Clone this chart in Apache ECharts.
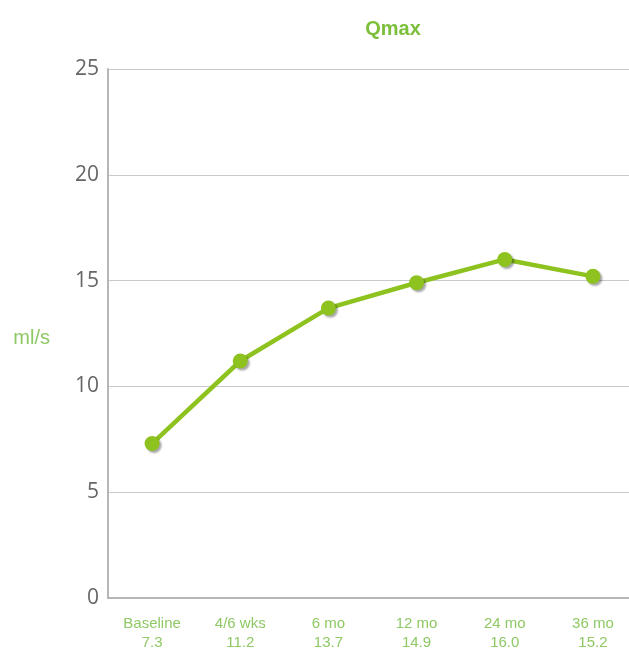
<!DOCTYPE html>
<html><head><meta charset="utf-8">
<script src="https://cdn.jsdelivr.net/npm/echarts@6/dist/echarts.min.js"></script>
<style>html,body{margin:0;padding:0;background:#fff}#c{width:629px;height:648px}</style>
</head><body><div id="c"></div>
<script>
const categories = ["Baseline", "4/6 wks", "6 mo", "12 mo", "24 mo", "36 mo"];
const labelValues = ["7.3", "11.2", "13.7", "14.9", "16.0", "15.2"];
const qmax = [7.3, 11.2, 13.7, 14.9, 16.0, 15.2];
const yTicks = [0, 5, 10, 15, 20, 25];

const chart = echarts.init(document.getElementById('c'));
chart.setOption({
  animation: false,
  title: {
    text: 'Qmax', left: 388, top: 14, textAlign: 'center',
    textStyle: { color: '#7cbf3a', fontSize: 20, fontWeight: 'bold', fontFamily: 'Liberation Sans' }
  },
  grid: { left: 108, right: -8, top: 69, bottom: 50, containLabel: false, outerBoundsMode: 'none' },
  xAxis: {
    type: 'category',
    data: categories.map((c, i) => c + '\n' + labelValues[i]),
    boundaryGap: true,
    axisLine: { lineStyle: { color: '#b4b6b8', width: 2 } },
    axisTick: { show: false },
    axisLabel: { color: '#8ec965', fontSize: 15, fontFamily: 'Liberation Sans', lineHeight: 19, margin: 16, interval: 0 }
  },
  yAxis: {
    type: 'value', min: yTicks[0], max: yTicks[yTicks.length - 1], interval: 5,
    name: 'ml/s', nameLocation: 'middle', nameGap: 58, nameRotate: 0,
    nameTextStyle: { color: '#8ec965', fontSize: 20, fontFamily: 'Liberation Sans', verticalAlign: 'top', lineHeight: 10 },
    axisLine: { show: true, lineStyle: { color: '#b4b6b8', width: 2 } },
    axisTick: { show: false },
    splitLine: { lineStyle: { color: '#c8c9cb', width: 1 } },
    axisLabel: { color: '#666666', fontSize: 21, fontFamily: 'Open Sans', margin: 9, padding: [6, 0, 0, 0] }
  },
  series: [{
    type: 'line', data: qmax,
    symbol: 'circle', symbolSize: 15,
    lineStyle: { color: '#8dc21f', width: 4.5 },
    itemStyle: { color: '#8dc21f', shadowColor: 'rgba(0,0,0,0.35)', shadowBlur: 2, shadowOffsetX: 2, shadowOffsetY: 2 }
  }]
});
</script></body></html>
